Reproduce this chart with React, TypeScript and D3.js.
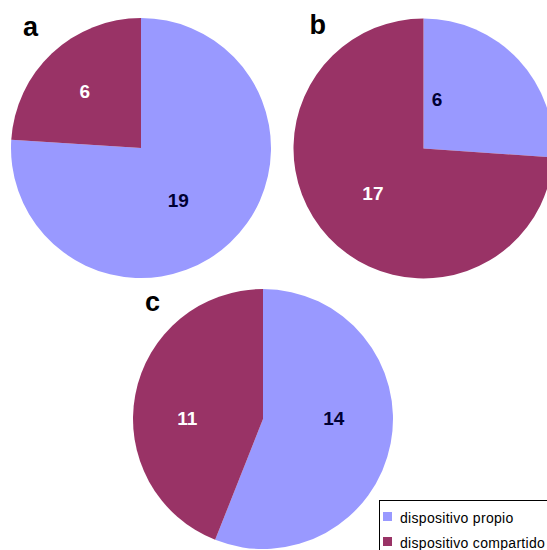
import React from "react";
import * as d3 from "d3";

// values per panel (a, b, c)
const panels = ["a", "b", "c"];
const propio = [19, 6, 14];
const compartido = [6, 17, 11];
const seriesNames = ["dispositivo propio", "dispositivo compartido"];
const seriesColors = ["#9999ff", "#993366"];
const labelColors = ["#000033", "#ffffff"];

const W = 547;
const H = 550;

// pie placement
const centers: [number, number][] = [
    [141, 148],
    [423.5, 148.5],
    [263, 419],
];
const radius = 130;
const titleOffset: [number, number][] = [
    [-118, -112],
    [-114, -115],
    [-118, -108],
];
// label nudges from the centroid (propio, compartido) per panel
const labelNudge: [number, number][][] = [
    [[-12, 0], [-7, -4]],
    [[-39, 0], [2, -4]],
    [[0, -14], [-5, 13]],
];

export default function App() {
    const pie = d3
        .pie<number>()
        .sort(null)
        .value(d => d);
    const arc = d3.arc<d3.PieArcDatum<number>>().innerRadius(0).outerRadius(radius);
    const labelArc = d3.arc<d3.PieArcDatum<number>>().innerRadius(72).outerRadius(72);

    return (
        <svg
            width={W}
            height={H}
            style={{ position: "absolute", left: 0, top: 0, background: "#fff" }}
            fontFamily="Liberation Sans, Arial, sans-serif"
        >
            {panels.map((p, i) => {
                const arcs = pie([propio[i], compartido[i]]);
                const [cx, cy] = centers[i];
                return (
                    <g key={p} transform={`translate(${cx},${cy})`}>
                        {arcs.map((a, j) => (
                            <path key={j} d={arc(a) || ""} fill={seriesColors[j]} />
                        ))}
                        {arcs.map((a, j) => {
                            const [lx, ly] = labelArc.centroid(a);
                            return (
                                <text
                                    key={"l" + j}
                                    x={lx + labelNudge[i][j][0]}
                                    y={ly + labelNudge[i][j][1]}
                                    textAnchor="middle"
                                    dy="0.36em"
                                    fontSize={19}
                                    fontWeight="bold"
                                    fill={labelColors[j]}
                                >
                                    {a.data}
                                </text>
                            );
                        })}
                        <text
                            x={titleOffset[i][0]}
                            y={titleOffset[i][1]}
                            fontSize={27}
                            fontWeight="bold"
                            fill="#000"
                        >
                            {p}
                        </text>
                    </g>
                );
            })}
            {/* legend */}
            <g transform="translate(379.5,500.5)">
                <rect x={0} y={0} width={180} height={60} fill="#fff" stroke="#000" strokeWidth={1} />
                {seriesNames.map((name, j) => (
                    <g key={name} transform={`translate(0,${j * 25})`}>
                        <rect x={3.5} y={11.5} width={9} height={9} fill={seriesColors[j]} />
                        <text x={20.5} y={22.5} fontSize={14} letterSpacing={0.3} fill="#000">
                            {name}
                        </text>
                    </g>
                ))}
            </g>
        </svg>
    );
}
